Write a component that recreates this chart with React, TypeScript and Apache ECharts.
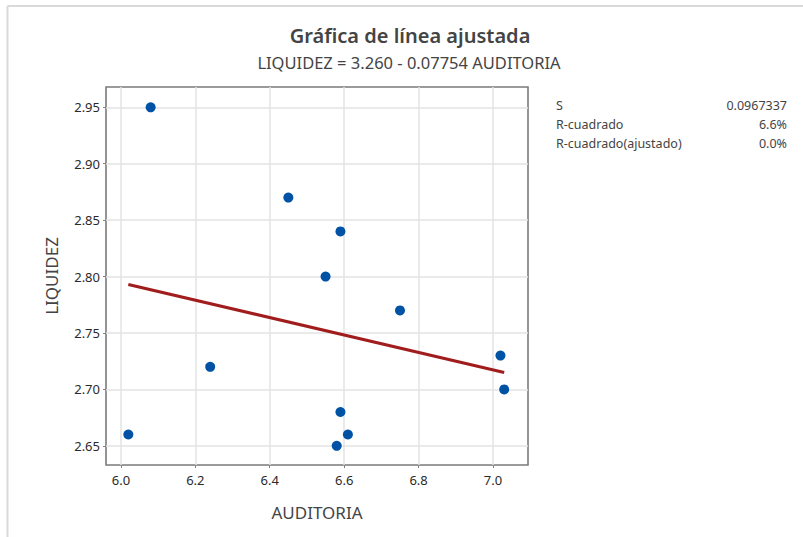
import React, { useEffect, useRef } from "react";
import * as echarts from "echarts";

const titleText = "Gráfica de línea ajustada";
const subtitleText = "LIQUIDEZ = 3.260 - 0.07754 AUDITORIA";
const xName = "AUDITORIA";
const yName = "LIQUIDEZ";

const auditoria = [6.08, 6.02, 6.24, 6.45, 6.59, 6.55, 6.75, 6.59, 6.61, 6.58, 7.02, 7.03];
const liquidez = [2.95, 2.66, 2.72, 2.87, 2.84, 2.80, 2.77, 2.68, 2.66, 2.65, 2.73, 2.70];

const fitX = [6.02, 7.03];
const fitY = [2.793, 2.715];

const xTicks = [6.0, 6.2, 6.4, 6.6, 6.8, 7.0];
const yTicks = [2.65, 2.7, 2.75, 2.8, 2.85, 2.9, 2.95];

const statLabels = ["S", "R-cuadrado", "R-cuadrado(ajustado)"];
const statValues = ["0.0967337", "6.6%", "0.0%"];

const FONT = "'Noto Sans', 'Open Sans', sans-serif";

export default function App() {
  const ref = useRef<HTMLDivElement>(null);
  useEffect(() => {
    if (!ref.current) return;
    const chart = echarts.init(ref.current, undefined, { renderer: "svg" });
    const points = auditoria.map((x, i) => [x, liquidez[i]]);
    const fit = fitX.map((x, i) => [x, fitY[i]]);
    const statGraphics: any[] = [];
    statLabels.forEach((t, i) => {
      statGraphics.push({
        type: "text",
        x: 556,
        y: 105.5 + i * 19,
        style: { text: t, fontFamily: FONT, fontSize: 12.5, fill: "#444", textVerticalAlign: "middle" },
      });
      statGraphics.push({
        type: "text",
        x: 787,
        y: 105.5 + i * 19,
        style: { text: statValues[i], fontFamily: FONT, fontSize: 12.5, fill: "#444", textAlign: "right", textVerticalAlign: "middle" },
      });
    });
    chart.setOption({
      animation: false,
      backgroundColor: "#ffffff",
      grid: {
        left: 106,
        right: 275,
        top: 87,
        bottom: 72,
        show: true,
        borderColor: "#7a7a7a",
        borderWidth: 1.6,
        containLabel: false,
      },
      xAxis: {
        type: "value",
        min: 5.96,
        max: 7.094,
        name: xName,
        nameLocation: "middle",
        nameGap: 39,
        nameTextStyle: { fontFamily: FONT, fontSize: 17, color: "#444" },
        axisLine: { show: false },
        axisTick: { show: true, length: 3, customValues: xTicks, lineStyle: { color: "#808080" } },
        axisLabel: {
          customValues: xTicks,
          formatter: (v: number) => v.toFixed(1),
          fontFamily: FONT,
          fontSize: 13,
          color: "#2a2a2a",
          margin: 8,
        },
        splitLine: { show: true, lineStyle: { color: "#e3e3e3", width: 1.5 } },
      },
      yAxis: {
        type: "value",
        min: 2.633,
        max: 2.968,
        name: yName,
        nameLocation: "middle",
        nameGap: 46,
        nameTextStyle: { fontFamily: FONT, fontSize: 17, color: "#444" },
        axisLine: { show: false },
        axisTick: { show: true, length: 3, customValues: yTicks, lineStyle: { color: "#808080" } },
        axisLabel: {
          customValues: yTicks,
          formatter: (v: number) => v.toFixed(2),
          fontFamily: FONT,
          fontSize: 13,
          color: "#2a2a2a",
          margin: 6,
        },
        splitLine: { show: true, lineStyle: { color: "#e3e3e3", width: 1.5 } },
      },
      series: [
        {
          type: "line",
          data: fit,
          symbol: "none",
          lineStyle: { color: "#a11d1d", width: 3 },
          z: 2,
        },
        {
          type: "scatter",
          data: points,
          symbol: "circle",
          symbolSize: 10,
          itemStyle: { color: "#0052a5", opacity: 1 },
          z: 3,
        },
      ],
      graphic: [
        { type: "line", shape: { x1: 7.5, y1: 6, x2: 803, y2: 6 }, style: { stroke: "#d9d9d9", lineWidth: 2 } },
        { type: "line", shape: { x1: 7.5, y1: 6, x2: 7.5, y2: 537 }, style: { stroke: "#d9d9d9", lineWidth: 2 } },
        {
          type: "text",
          x: 410,
          y: 35,
          style: { text: titleText, fontFamily: FONT, fontSize: 20, fontWeight: 600, fill: "#444", textAlign: "center", textVerticalAlign: "middle" },
        },
        {
          type: "text",
          x: 409,
          y: 62,
          style: { text: subtitleText, fontFamily: FONT, fontSize: 16.5, fill: "#444", textAlign: "center", textVerticalAlign: "middle" },
        },
        ...statGraphics,
      ],
    });
    return () => chart.dispose();
  }, []);
  return <div ref={ref} style={{ position: "fixed", left: 0, top: 0, width: 803, height: 537 }} />;
}
